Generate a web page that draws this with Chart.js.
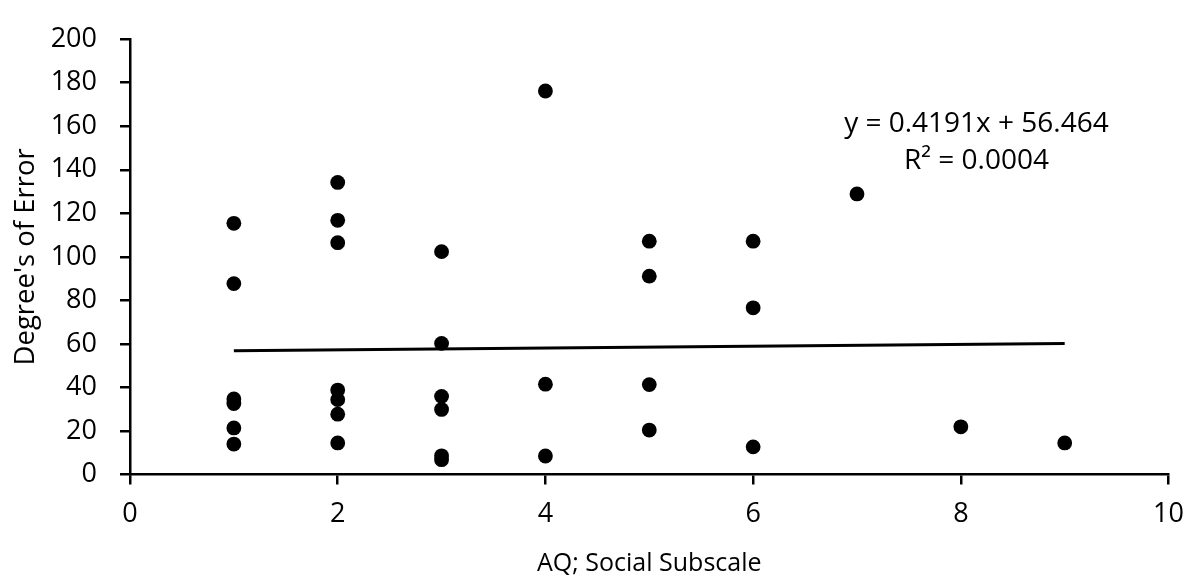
<!DOCTYPE html>
<html>
<head>
<meta charset="utf-8">
<script src="https://cdn.jsdelivr.net/npm/chart.js@4/dist/chart.umd.min.js"></script>
<style>
  body { margin: 0; background: #fff; }
  #grafico { display: block; }
</style>
</head>
<body>
<canvas id="grafico" width="1198" height="584"></canvas>
<script>
// AQ social subscale score vs degrees of error
const aqSocial = [1, 1, 1, 1, 1, 1,
                  2, 2, 2, 2, 2, 2, 2,
                  3, 3, 3, 3, 3, 3,
                  4, 4, 4,
                  5, 5, 5, 5,
                  6, 6, 6,
                  7, 8, 9]
const grausErro = [115.4, 87.7, 34.7, 32.6, 21.4, 14.0,
                   134.2, 116.8, 106.5, 38.8, 34.4, 27.7, 14.5,
                   102.4, 60.2, 35.9, 29.9, 8.6, 6.8,
                   176.2, 41.5, 8.5,
                   107.2, 91.1, 41.3, 20.4,
                   107.2, 76.6, 12.7,
                   128.9, 21.9, 14.5]

// linear trendline endpoints (y = 0.4191x + 56.464)
const tendenciaX = [1, 9]
const tendenciaY = [56.88, 60.24]

const rotuloEquacao = ['y = 0.4191x + 56.464', 'R² = 0.0004']

const fonte = "'Open Sans', sans-serif"

const pontos = aqSocial.map((x, i) => ({ x: x, y: grausErro[i] }))
const linha = tendenciaX.map((x, i) => ({ x: x, y: tendenciaY[i] }))

// writes the equation text next to the trendline
const equacaoPlugin = {
    id: 'equacao',
    afterDatasetsDraw(chart) {
        const ctx = chart.ctx
        const sx = chart.scales.x
        const sy = chart.scales.y
        ctx.save()
        ctx.fillStyle = '#000'
        ctx.font = `28px ${fonte}`
        ctx.textAlign = 'center'
        ctx.textBaseline = 'middle'
        ctx.fillText(rotuloEquacao[0], sx.getPixelForValue(8.15), sy.getPixelForValue(161))
        ctx.fillText(rotuloEquacao[1], sx.getPixelForValue(8.15), sy.getPixelForValue(144.2))
        ctx.restore()
    }
}

const ctx = document.getElementById('grafico').getContext('2d')

new Chart(ctx, {
    type: 'scatter',
    data: {
        datasets: [{
            label: 'Dados',
            data: pontos,
            backgroundColor: '#000',
            borderColor: '#000',
            borderWidth: 0,
            pointRadius: 7.4,
            pointHoverRadius: 7.4
        }, {
            type: 'line',
            label: 'Tendência',
            data: linha,
            borderColor: '#000',
            borderWidth: 3,
            pointRadius: 0,
            fill: false
        }]
    },
    options: {
        responsive: false,
        animation: false,
        layout: {
            padding: { top: 22, right: 25, left: 0, bottom: 0 }
        },
        plugins: {
            legend: { display: false },
            tooltip: { enabled: false }
        },
        scales: {
            x: {
                type: 'linear',
                min: 0,
                max: 10,
                ticks: {
                    stepSize: 2,
                    color: '#000',
                    padding: 14,
                    font: { family: fonte, size: 27 }
                },
                grid: {
                    drawOnChartArea: false,
                    tickLength: 10,
                    color: '#000',
                    lineWidth: 2.5
                },
                border: { color: '#000', width: 2.5 },
                title: {
                    display: true,
                    text: 'AQ; Social Subscale',
                    color: '#000',
                    font: { family: fonte, size: 25 },
                    padding: { top: 0, bottom: 5 }
                },
                afterFit(scale) { scale.height = 109.5 }
            },
            y: {
                min: 0,
                max: 200,
                ticks: {
                    stepSize: 20,
                    color: '#000',
                    padding: 23,
                    font: { family: fonte, size: 27 }
                },
                grid: {
                    drawOnChartArea: false,
                    tickLength: 10,
                    color: '#000',
                    lineWidth: 2.5
                },
                border: { color: '#000', width: 2.5 },
                title: {
                    display: true,
                    text: "Degree's of Error",
                    color: '#000',
                    font: { family: fonte, size: 27.5 },
                    padding: { top: 9.5, bottom: 0 }
                },
                afterFit(scale) { scale.width = 130 }
            }
        }
    },
    plugins: [equacaoPlugin]
})
</script>
</body>
</html>
